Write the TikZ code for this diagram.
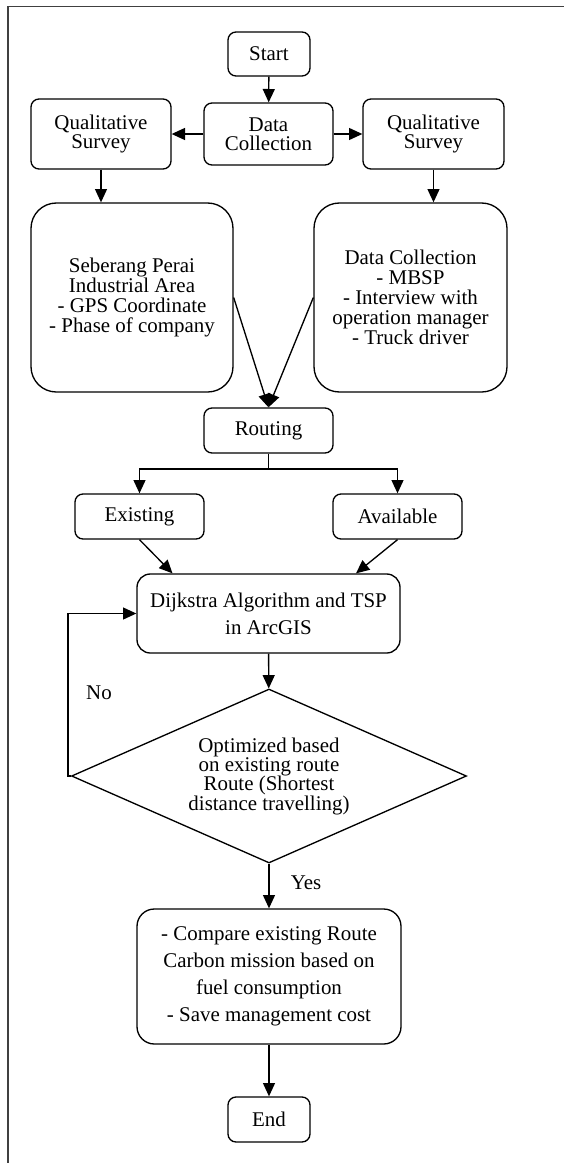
\documentclass[tikz,border=0pt]{standalone}
\usepackage{fontspec}
\setmainfont{Liberation Serif}
\usepackage{tikz}
\usetikzlibrary{arrows.meta, calc, shapes.geometric}
\tikzset{
    block/.style={draw, line width=1pt, rounded corners=6pt, align=center, inner sep=0pt, font=\fontsize{15.7}{14.5}\selectfont},
    bigblock/.style={block, rounded corners=19pt, font=\fontsize{15.7}{15}\selectfont},
    wideblock/.style={block, rounded corners=10pt, font=\fontsize{15.7}{20.2}\selectfont},
    decision/.style={diamond, draw, line width=1pt, aspect=2.27, inner sep=0pt, align=center, font=\fontsize{15.7}{14.5}\selectfont},
    flow/.style={line width=1pt, -{Triangle[length=10pt, width=9pt]}},
    frameline/.style={line width=0.9pt, draw=black!75}
}

\begin{document}
\begin{tikzpicture}[x=0.75pt, y=-0.75pt]
    \useasboundingbox (0,0) rectangle (564,1163);
    \draw[frameline] (8,1163) -- (8,6.5) -- (564,6.5); % page frame
    \node[block, minimum width=61.5pt, minimum height=33pt] (start) at (269,54) {Start};
    \node[block, minimum width=96.75pt, minimum height=46.5pt] (collect) at (268.5,134) {Data\\Collection};
    \node[block, minimum width=105pt, minimum height=52.5pt] (qualL) at (101,134) {Qualitative\\Survey};
    \node[block, minimum width=105.75pt, minimum height=52.5pt] (qualR) at (433.5,134) {Qualitative\\Survey};
    \node[bigblock, minimum width=151.5pt, minimum height=141.75pt] (area) at (132,297.5) {Seberang Perai\\Industrial Area\\- GPS Coordinate\\- Phase of company};
    \node[bigblock, minimum width=144.75pt, minimum height=141.75pt] (source) at (410.5,297.5) {Data Collection\\- MBSP\\- Interview with\\operation manager\\- Truck driver};
    \node[block, minimum width=96.75pt, minimum height=33.75pt] (routing) at (268.5,430.5) {Routing};
    \coordinate (split) at (268.5,469);
    \node[block, minimum width=96.75pt, minimum height=33.75pt] (exist) at (139.5,516.5) {Existing};
    \node[block, minimum width=96.75pt, minimum height=33.75pt] (avail) at (397.5,516.5) {Available};
    \node[wideblock, minimum width=197.25pt, minimum height=59.25pt] (dijk) at (268.5,613.5) {Dijkstra Algorithm and TSP\\in ArcGIS};
    \node[decision, minimum width=296.25pt, minimum height=130.5pt] (optim) at (269,776) {Optimized based\\on existing route\\Route (Shortest\\distance travelling)};
    \node[wideblock, rounded corners=13pt, minimum width=198pt, minimum height=101.25pt] (result) at (269,976.5) {- Compare existing Route\\Carbon mission based on\\fuel consumption\\- Save management cost};
    \node[block, minimum width=61.5pt, minimum height=33.75pt] (finish) at (269,1119.5) {End};

    \draw[flow] (start) -- (collect);
    \draw[flow] (collect) -- (qualL);
    \draw[flow] (collect) -- (qualR);
    \draw[flow] (qualL.south) -- (qualL.south |- area.north);
    \draw[flow] (qualR.south) -- (qualR.south |- source.north);
    \draw[flow] (area.east) -- (routing.north);
    \draw[flow] (source.west) -- (routing.north);
    \draw[line width=1pt] (routing) -- (split);
    \draw[flow] (split) -| (exist.north);
    \draw[flow] (split) -| (avail.north);
    \draw[flow] (exist.south) -- ($(dijk.north)+(-96,0)$);
    \draw[flow] (avail.south) -- ($(dijk.north)+(87.5,0)$);
    \draw[flow] (dijk) -- (optim);
    \draw[flow] (optim.west) -- ++(-3,0) |- (dijk.west); % loop back
    \node[font=\fontsize{15.7}{14.5}\selectfont] (no) at (99,693) {No};
    \draw[flow] (optim.south) -- (result.north);
    \node[font=\fontsize{15.7}{14.5}\selectfont] (yes) at (306,883) {Yes};
    \draw[flow] (result) -- (finish);
\end{tikzpicture}
\end{document}
